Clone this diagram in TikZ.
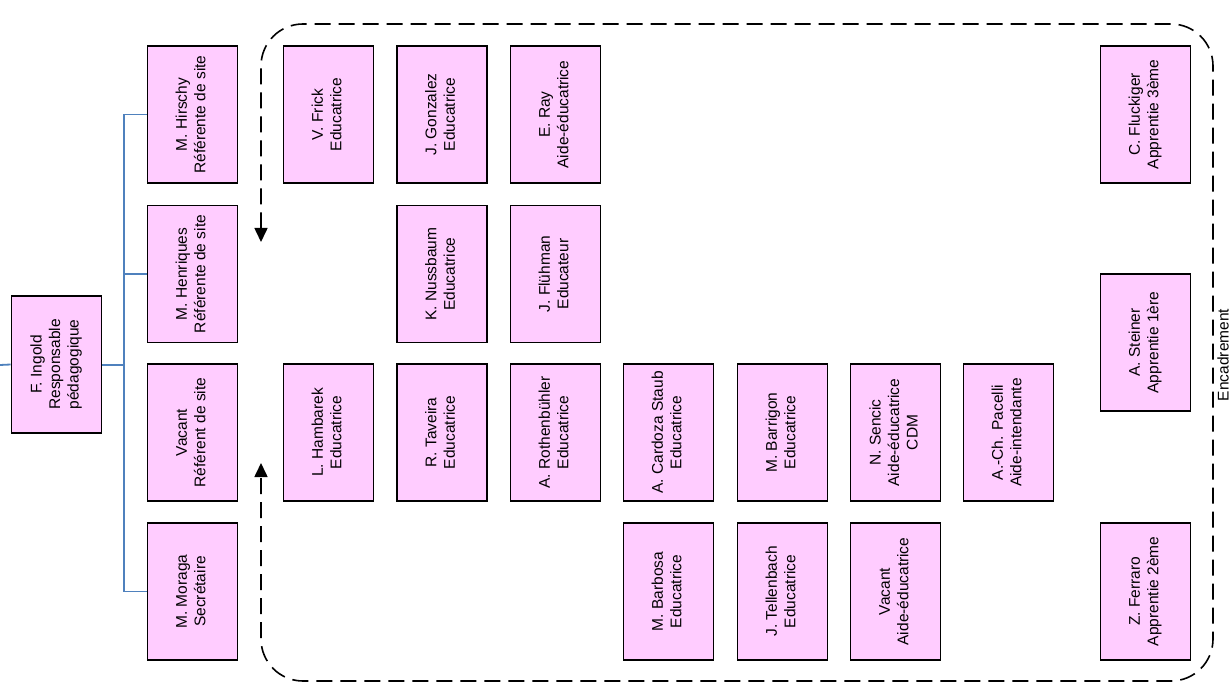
\documentclass[tikz,border=0pt]{standalone}
\usepackage{fontspec}
\setmainfont{Liberation Sans}
\usepackage{graphicx}
\usetikzlibrary{arrows.meta}

\definecolor{staffpink}{RGB}{255,204,255}
\definecolor{linkblue}{RGB}{79,129,189}
\newcommand{\vtext}[1]{\rotatebox{90}{\begin{tabular}{@{}c@{}}#1\end{tabular}}}

\begin{document}
\begin{tikzpicture}[x=1pt, y=-1pt, font=\fontsize{15.5}{18.5}\selectfont,
	staff/.style={draw=black, line width=1.6pt, fill=staffpink, minimum width=90pt, minimum height=137pt, inner sep=0pt},
	link/.style={draw=linkblue, line width=1.8pt},
	frame/.style={line width=1.6pt, dash pattern=on 16pt off 8pt, rounded corners=42pt}]
	\useasboundingbox (0,0) rectangle (1232,700);

	\node[staff] (ingold) at (56.5,364.5) {\vtext{F. Ingold\\Responsable\\pédagogique}};
	\node[staff] (hirschy) at (192.5,114.5) {\vtext{M. Hirschy\\Référente de site}};
	\node[staff] (henriques) at (192.5,274) {\vtext{M. Henriques\\Référente de site}};
	\node[staff] (vacantsite) at (192.5,432.5) {\vtext{Vacant\\Référent de site}};
	\node[staff] (moraga) at (192.5,591.5) {\vtext{M. Moraga\\Secrétaire}};

	\node[staff] (frick) at (328.5,114.5) {\vtext{V. Frick\\Educatrice}};
	\node[staff] (gonzalez) at (442,114.5) {\vtext{J. Gonzalez\\Educatrice}};
	\node[staff] (ray) at (555.5,114.5) {\vtext{E. Ray\\Aide-éducatrice}};
	\node[staff] (nussbaum) at (442,274) {\vtext{K. Nussbaum\\Educatrice}};
	\node[staff] (fluhman) at (555.5,274) {\vtext{J. Flühman\\Educateur}};

	\node[staff] (hambarek) at (328.5,432.5) {\vtext{L. Hambarek\\Educatrice}};
	\node[staff] (taveira) at (442,432.5) {\vtext{R. Taveira\\Educatrice}};
	\node[staff] (rothenbuhler) at (555.5,432.5) {\vtext{A. Rothenbühler\\Educatrice}};
	\node[staff] (cardoza) at (668.5,432.5) {\vtext{A. Cardoza Staub\\Educatrice}};
	\node[staff] (barrigon) at (782.5,432.5) {\vtext{M. Barrigon\\Educatrice}};
	\node[staff] (sencic) at (895.5,432.5) {\vtext{N. Sencic\\Aide-éducatrice\\CDM}};
	\node[staff] (pacelli) at (1008.5,432.5) {\vtext{A.-Ch. Pacelli\\Aide-intendante}};

	\node[staff] (barbosa) at (668.5,591.5) {\vtext{M. Barbosa\\Educatrice}};
	\node[staff] (tellenbach) at (782.5,591.5) {\vtext{J. Tellenbach\\Educatrice}};
	\node[staff] (vacantaide) at (895.5,591.5) {\vtext{Vacant\\Aide-éducatrice}};

	\node[staff] (fluckiger) at (1145.5,114.5) {\vtext{C. Fluckiger\\Apprentie 3ème}};
	\node[staff] (steiner) at (1145.5,342.5) {\vtext{A. Steiner\\Apprentie 1ère}};
	\node[staff] (ferraro) at (1145.5,591.5) {\vtext{Z. Ferraro\\Apprentie 2ème}};

	\coordinate (upper) at (0,365);
	\coordinate (bus) at (124,365);
	\draw[link] (upper) -- (ingold.west);
	\draw[link] (ingold.east |- bus) -- (bus);
	\draw[link] (bus) |- (hirschy.west);
	\draw[link] (bus) |- (henriques.west);
	\draw[link] (bus) |- (moraga.west);

	\coordinate (frameA) at (261,242);
	\coordinate (frameB) at (261,463);
	\coordinate (frameNE) at (1213,24);
	\coordinate (frameSW) at (261,681);
	\draw[frame, {Triangle[length=14pt,width=13pt]}-{Triangle[length=14pt,width=13pt]}]
		(frameA) |- (frameNE) |- (frameSW) -- (frameB);
	\node[rotate=90, inner sep=0pt] (encadrement) at (1223,355) {Encadrement};
\end{tikzpicture}
\end{document}
